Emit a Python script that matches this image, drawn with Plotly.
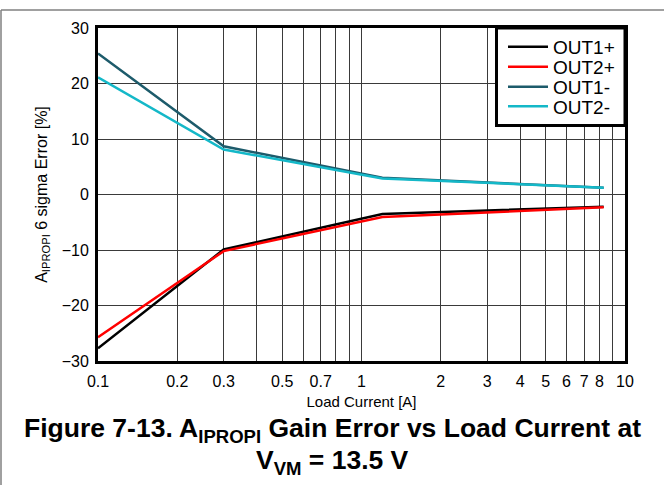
import plotly.graph_objects as go

# Data
load_current = [0.1, 0.3, 1.2, 8.3]
out1_pos = [-27.7, -9.9, -3.5, -2.2]
out2_pos = [-25.7, -10.2, -4.05, -2.3]
out1_neg = [25.4, 8.7, 3.0, 1.2]
out2_neg = [21.1, 8.1, 2.9, 1.2]

series_names = ["OUT1+", "OUT2+", "OUT1-", "OUT2-"]
series_values = [out1_pos, out2_pos, out1_neg, out2_neg]
series_colors = ["#000000", "#ff0000", "#1d5b6b", "#14b8c8"]

x_grid_vals = [0.1, 0.2, 0.3, 0.4, 0.5, 0.6, 0.7, 0.8, 0.9,
               1, 2, 3, 4, 5, 6, 7, 8, 9, 10]
x_labeled = {0.1: "0.1", 0.2: "0.2", 0.3: "0.3", 0.5: "0.5", 0.7: "0.7",
             1: "1", 2: "2", 3: "3", 4: "4", 5: "5", 6: "6", 7: "7",
             8: "8", 10: "10"}
x_tick_text = [x_labeled.get(v, " ") for v in x_grid_vals]
y_tick_vals = [-30, -20, -10, 0, 10, 20, 30]

W, H = 664, 485
ML, MR, MT, MB = 98, 39, 28, 124
PW, PH = W - ML - MR, H - MT - MB


def px_x(p):
    return (p - ML) / PW


def px_y(p):
    return (MT + PH - p) / PH


font_axis = "Liberation Sans, Arial, sans-serif"
legend_rows_px = [47, 67, 87, 106.5]
legend_ids = ["legend", "legend2", "legend3", "legend4"]

fig = go.Figure()
for name, vals, col, lid in zip(series_names, series_values, series_colors, legend_ids):
    fig.add_trace(go.Scatter(x=load_current, y=vals, mode="lines", name=name,
                             legend=lid, line=dict(color=col, width=2.5)))

legend_layout = {}
for lid, row in zip(legend_ids, legend_rows_px):
    legend_layout[lid] = dict(x=px_x(503), y=px_y(row), xanchor="left", yanchor="middle",
                              bgcolor="rgba(0,0,0,0)", borderwidth=0,
                              font=dict(size=19, family=font_axis, color="black"),
                              itemwidth=40)

fig.update_layout(
    width=W, height=H,
    margin=dict(l=ML, r=MR, t=MT, b=MB, autoexpand=False),
    paper_bgcolor="white", plot_bgcolor="white",
    font=dict(family=font_axis, size=16, color="black"),
    showlegend=True,
    xaxis=dict(type="log", range=[-1, 1],
               tickmode="array", tickvals=x_grid_vals, ticktext=x_tick_text,
               tickangle=0, ticklabelstandoff=4,
               showgrid=True, gridcolor="#3a3a3a", gridwidth=1,
               showline=True, linecolor="black", linewidth=3, mirror=True,
               ticks="", tickfont=dict(size=16),
               title=dict(text="Load Current [A]", font=dict(size=15), standoff=8),
               zeroline=False),
    yaxis=dict(range=[-30, 30], tickmode="array", tickvals=y_tick_vals,
               ticklabelstandoff=3,
               showgrid=True, gridcolor="#3a3a3a", gridwidth=1,
               showline=True, linecolor="black", linewidth=3, mirror=True,
               ticks="", tickfont=dict(size=16),
               title=dict(text="A<sub>IPROPI</sub> 6 sigma Error [%]",
                          font=dict(size=16), standoff=11),
               zeroline=False),
    **legend_layout,
)

# Legend frame
fig.add_shape(type="rect", xref="paper", yref="paper",
              x0=px_x(496.5), x1=px_x(625), y0=px_y(125.5), y1=px_y(28),
              line=dict(color="black", width=3), fillcolor="white", layer="above")

cap_font = dict(family="Liberation Sans, Arial, sans-serif",
                size=26.5, color="black", weight="bold")
fig.add_annotation(
    text="Figure 7-13. A<sub>IPROPI</sub> Gain Error vs Load Current at",
    xref="paper", yref="paper", x=px_x(332.5), y=px_y(430),
    xanchor="center", yanchor="middle", showarrow=False, font=cap_font,
)
fig.add_annotation(
    text="V<sub>VM</sub> = 13.5 V",
    xref="paper", yref="paper", x=px_x(332.5), y=px_y(462),
    xanchor="center", yanchor="middle", showarrow=False, font=cap_font,
)

# Outer frame lines (top and left)
fig.add_shape(type="line", xref="paper", yref="paper",
              x0=px_x(1), x1=px_x(W), y0=px_y(10), y1=px_y(10),
              line=dict(color="#808080", width=1.5))
fig.add_shape(type="line", xref="paper", yref="paper",
              x0=px_x(1), x1=px_x(1), y0=px_y(H), y1=px_y(10),
              line=dict(color="#808080", width=1.5))

fig.write_html("out.html", config={"displayModeBar": False},
               post_script="document.body.style.margin='0px';")
